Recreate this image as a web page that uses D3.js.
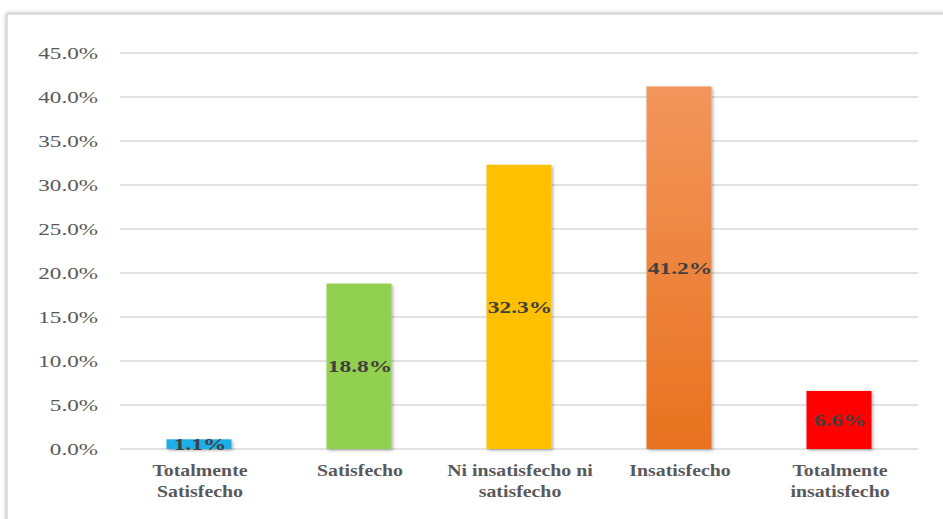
<!DOCTYPE html>
<html><head><meta charset="utf-8">
<script src="https://cdn.jsdelivr.net/npm/d3@7"></script>
<style>
html,body{margin:0;padding:0;background:#fff;}
svg{display:block;}
</style></head>
<body><svg id="chart" width="943" height="519"></svg>
<script>
const categories = [["Totalmente","Satisfecho"],["Satisfecho"],["Ni insatisfecho ni","satisfecho"],["Insatisfecho"],["Totalmente","insatisfecho"]];
const values = [1.1, 18.8, 32.3, 41.2, 6.6];
const colors = ["#1FAEE6","#92D050","#FFC000","url(#orangeGrad)","#FF0000"];
const yTicks = [0,5,10,15,20,25,30,35,40,45];

const svg = d3.select("#chart");
const defs = svg.append("defs");
const g1 = defs.append("linearGradient").attr("id","orangeGrad").attr("x1",0).attr("y1",0).attr("x2",0).attr("y2",1);
g1.append("stop").attr("offset","0%").attr("stop-color","#F2965C");
g1.append("stop").attr("offset","100%").attr("stop-color","#E8721F");
const sh = defs.append("filter").attr("id","shadow").attr("x","-20%").attr("y","-20%").attr("width","150%").attr("height","150%");
sh.append("feDropShadow").attr("dx",1.5).attr("dy",1.5).attr("stdDeviation",1.5).attr("flood-color","#000").attr("flood-opacity",0.3);
const cs = defs.append("filter").attr("id","cardShadow").attr("x","-5%").attr("y","-5%").attr("width","110%").attr("height","110%");
cs.append("feDropShadow").attr("dx",0).attr("dy",0).attr("stdDeviation",2).attr("flood-color","#000").attr("flood-opacity",0.35);

const serif = "'Liberation Serif', 'Times New Roman', serif";

// card
svg.append("rect").attr("x",7).attr("y",14).attr("width",960).attr("height",540)
  .attr("fill","#fff").attr("stroke","#c8c8c8").attr("stroke-width",1).attr("filter","url(#cardShadow)");

const x = d3.scaleBand().domain(d3.range(values.length)).range([119,919]).paddingInner(0.6).paddingOuter(0.3);
const y = d3.scaleLinear().domain([0,45]).range([449,53]);

// gridlines
svg.append("g").selectAll("line").data(yTicks).join("line")
  .attr("x1",120).attr("x2",918).attr("y1",d=>y(d)).attr("y2",d=>y(d))
  .attr("stroke","#d9d9d9").attr("stroke-width",1.5);

// y axis labels
svg.append("g").selectAll("text").data(yTicks).join("text")
  .attr("transform",d=>`translate(98,${y(d)}) scale(1.36,1)`)
  .attr("dy","0.35em").attr("text-anchor","end")
  .attr("font-family",serif).attr("font-size",17)
  .attr("fill","#595959").text(d=>d.toFixed(1)+"%");

// bars
const bw = 65;
svg.append("g").selectAll("rect").data(values).join("rect")
  .attr("x",(d,i)=>x(i)+x.bandwidth()/2-bw/2).attr("width",bw)
  .attr("y",d=>y(d)).attr("height",d=>y(0)-y(d))
  .attr("fill",(d,i)=>colors[i]).attr("filter","url(#shadow)");

// value labels
svg.append("g").selectAll("text").data(values).join("text")
  .attr("transform",(d,i)=>`translate(${x(i)+x.bandwidth()/2+1},${(y(d)+y(0))/2}) scale(1.38,1)`)
  .attr("dy","0.35em").attr("text-anchor","middle")
  .attr("font-family",serif).attr("font-size",17).attr("font-weight","bold")
  .attr("fill","#404040").text(d=>d.toFixed(1)+"%");

// category labels
const cl = svg.append("g").selectAll("text").data(categories).join("text")
  .attr("transform",(d,i)=>`translate(${x(i)+x.bandwidth()/2+1},476) scale(1.24,1)`)
  .attr("text-anchor","middle")
  .attr("font-family",serif).attr("font-size",16).attr("font-weight","bold")
  .attr("fill","#595959");
cl.selectAll("tspan").data(d=>d).join("tspan")
  .attr("x",0).attr("dy",(d,i)=>i===0?0:21).text(d=>d);
</script></body></html>
